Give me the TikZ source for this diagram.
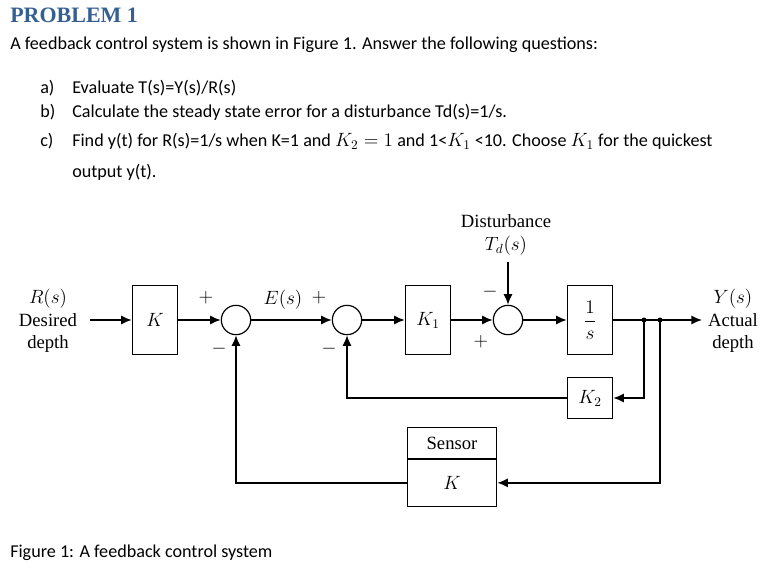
\documentclass[tikz,border=0pt]{standalone}
\usepackage{fontspec}
\setmainfont{Liberation Serif}
\newfontfamily\bodyfont{Carlito}
\usetikzlibrary{arrows.meta}
\definecolor{headblue}{RGB}{54,95,145}
\tikzset{
  blk/.style={draw,line width=0.9pt,minimum width=34pt,minimum height=52pt,inner sep=0pt,font=\Large},
  sumj/.style={draw,circle,line width=0.9pt,minimum size=22pt,inner sep=0pt},
  sig/.style={line width=1.3pt,-{Latex[length=8pt,width=7pt]}},
  wire/.style={line width=1.3pt},
  txt/.style={anchor=west,inner sep=0pt,font=\bodyfont\fontsize{13.6pt}{16pt}\selectfont},
  lbl/.style={font=\fontsize{14pt}{17pt}\selectfont},
}
\begin{document}
\begin{tikzpicture}[x=0.75pt,y=0.75pt,yscale=-1,xscale=1]
\useasboundingbox (0,0) rectangle (769,571);

% Text Node
\node [anchor=west,inner sep=0pt,font=\bfseries\fontsize{16.5pt}{18pt}\selectfont,text=headblue] (title) at (10,15) {PROBLEM 1};
\node [txt] (intro) at (10,45) {A feedback control system is shown in Figure 1. Answer the following questions:};
\node [txt] (qa) at (40,88) {a)};
\node [txt] (qat) at (72,88) {Evaluate T(s)=Y(s)/R(s)};
\node [txt] (qb) at (40,112) {b)};
\node [txt] (qbt) at (72,112) {Calculate the steady state error for a disturbance Td(s)=1/s.};
\node [txt] (qc) at (40,141) {c)};
\node [txt] (qct) at (72,141) {Find y(t) for R(s)=1/s when K=1 and {\Large$K_2=1$} and 1<{\Large$K_1$} <10. Choose {\Large$K_1$} for the quickest};
\node [txt] (qd) at (72,172) {output y(t).};
\node [txt] (cap) at (10,553) {Figure 1: A feedback control system};

% Blocks
\node [blk] (kin) at (155,320) {$K$};
\node [sumj] (s1) at (236,320) {};
\node [sumj] (s2) at (347,320) {};
\node [blk] (k1) at (428,320) {$K_1$};
\node [sumj] (s3) at (508,320) {};
\node [blk] (integ) at (590,320) {$\displaystyle\frac{1}{s}$};
\node [blk,minimum height=31pt] (k2) at (590,398) {$K_2$};
\node [draw,line width=0.9pt,minimum width=67pt,minimum height=23pt,inner sep=0pt,lbl] (sens) at (452,443) {Sensor};
\node [draw,line width=0.9pt,minimum width=67pt,minimum height=35pt,inner sep=0pt,anchor=north,font=\Large] (ks) at (sens.south) {$K$};

% Text Node
\node [align=center,lbl] (rin) at (48,321) {$R(s)$\\Desired\\depth};
\node [align=center,lbl] (yout) at (733,321) {$Y(s)$\\Actual\\depth};
\node [align=center,lbl] (dist) at (506,235) {Disturbance\\$T_d(s)$};
\node [lbl] (es) at (283,300) {$E(s)$};
\node [lbl] (p1) at (206,298) {$+$};
\node [lbl] (m1) at (219,349) {$-$};
\node [lbl] (p2) at (319,298) {$+$};
\node [lbl] (m2) at (329,349) {$-$};
\node [lbl] (m3) at (490,292) {$-$};
\node [lbl] (p3) at (481,342) {$+$};

% Coordinates
\coordinate (in) at (90,320);
\coordinate (dtop) at (508,262);
\coordinate (b1) at (644,320);
\coordinate (b2) at (660,320);
\coordinate (out) at (702,320);

% Forward path
\draw [sig] (in) -- (kin);
\draw [sig] (kin) -- (s1);
\draw [sig] (s1) -- (s2);
\draw [sig] (s2) -- (k1);
\draw [sig] (k1) -- (s3);
\draw [sig] (dtop) -- (s3);
\draw [sig] (s3) -- (integ);
\draw [sig] (integ) -- (out);
\fill (b1) circle (2.5) (b2) circle (2.5);

% Feedback paths
\draw [sig] (b1) |- (k2);
\draw [sig] (k2) -| (s2);
\draw [sig] (b2) |- (ks);
\draw [sig] (ks) -| (s1);

\end{tikzpicture}
\end{document}
